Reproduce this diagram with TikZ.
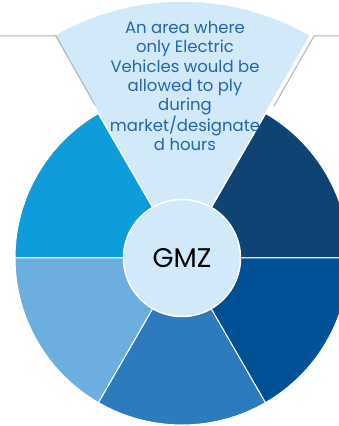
\documentclass[tikz,border=0pt]{standalone}
\usepackage{fontspec}
\setmainfont{Poppins}
\definecolor{gmzlight}{HTML}{D1E9F8}
\definecolor{segA}{HTML}{0E9CDA}
\definecolor{segB}{HTML}{6CAEE0}
\definecolor{segC}{HTML}{2C7BBF}
\definecolor{segD}{HTML}{005095}
\definecolor{segE}{HTML}{0E4374}
\definecolor{desctext}{HTML}{2466AE}
\definecolor{leadgray}{HTML}{B4B4B4}
\begin{document}
\begin{tikzpicture}[
    x=1pt, y=1pt,
    sect/.style={draw=white, line width=1pt},
    hub/.style={circle, fill=gmzlight, draw=white, line width=1.5pt,
                minimum size=117pt, inner sep=0pt, font=\fontsize{27}{32}\selectfont},
    desc/.style={align=center, inner sep=0pt, text=desctext,
                 font=\fontsize{16.5}{19.3}\selectfont},
    lead/.style={draw=leadgray, line width=1pt},
  ]
  \useasboundingbox (0,0) rectangle (339,426);
  \clip (0,0) rectangle (339,426);

  % Outer ring: five sectors
  \coordinate (c) at (182,168);
  \fill[segE, sect] (c) -- ++(0:167) arc (0:60:167) -- cycle;
  \fill[segA, sect] (c) -- ++(120:167) arc (120:180:167) -- cycle;
  \fill[segB, sect] (c) -- ++(180:167) arc (180:240:167) -- cycle;
  \fill[segC, sect] (c) -- ++(240:167) arc (240:300:167) -- cycle;
  \fill[segD, sect] (c) -- ++(300:167) arc (300:360:167) -- cycle;

  % Top sector, drawn larger
  \fill[gmzlight, draw=white, line width=1.5pt] (c) -- ++(60:257) arc (60:120:257) -- cycle;

  % Leader lines
  \coordinate (lstart) at (0,390);
  \coordinate (lbend) at (56,390);
  \coordinate (lend) at (95,321);
  \coordinate (rstart) at (339,390);
  \coordinate (rbend) at (314,390);
  \coordinate (rend) at (274,320);
  \draw[lead] (lstart) -- (lbend) -- (lend);
  \draw[lead] (rstart) -- (rbend) -- (rend);

  % Hub
  \node[hub] (gmz) at (c) {GMZ};

  % Description
  \node[desc, anchor=north] (info) at (185,405) {An area where\\only Electric\\Vehicles would be\\allowed to ply\\during\\market/designate\\d hours};

  \end{tikzpicture}
\end{document}
